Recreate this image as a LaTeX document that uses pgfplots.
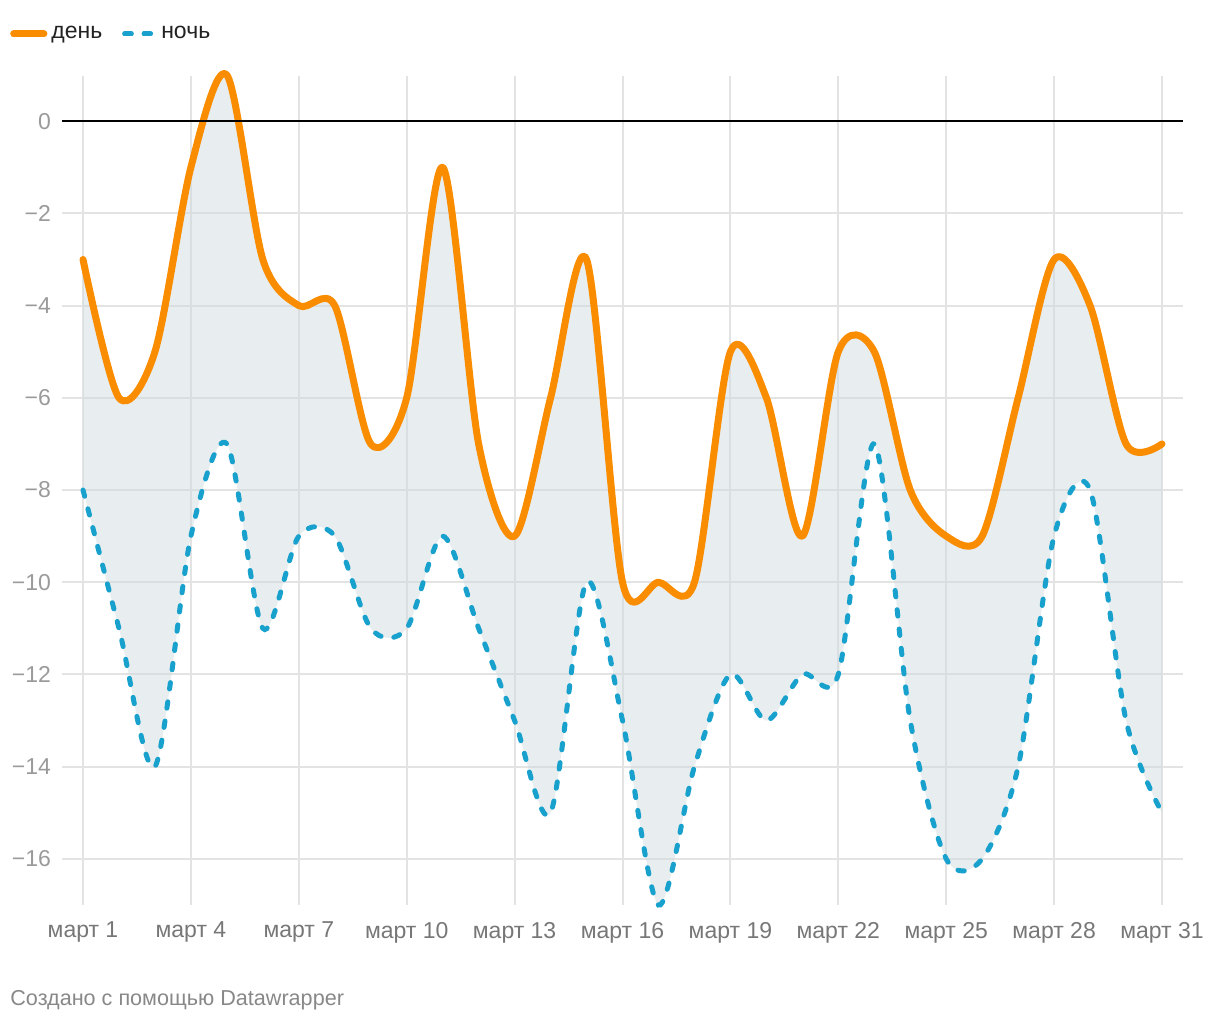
\documentclass[border=0pt]{standalone}
\usepackage{fontspec}
\setmainfont{Liberation Sans}
\usepackage{pgfplots}
\usepackage{pgfplotstable}
\pgfplotsset{compat=1.18}
\usepgfplotslibrary{fillbetween}
\definecolor{dayc}{HTML}{FA8C00}
\definecolor{nightc}{HTML}{18A1CD}
\definecolor{fillc}{HTML}{D1DBDF}
\definecolor{gridc}{HTML}{E3E3E3}
\definecolor{ylab}{HTML}{9A9A9A}
\definecolor{xlab}{HTML}{777777}
\definecolor{foot}{HTML}{888888}
\definecolor{legt}{HTML}{222222}

\pgfplotstableread{
d v
1 -3
2 -6
3 -5
4 -1
5 1
6 -3
7 -4
8 -4
9 -7
10 -6
11 -1
12 -7
13 -9
14 -6
15 -3
16 -10
17 -10
18 -10
19 -5
20 -6
21 -9
22 -5
23 -5
24 -8
25 -9
26 -9
27 -6
28 -3
29 -4
30 -7
31 -7
}\daytable

\pgfplotstableread{
d v
1 -8
2 -11
3 -14
4 -9
5 -7
6 -11
7 -9
8 -9
9 -11
10 -11
11 -9
12 -11
13 -13
14 -15
15 -10
16 -13
17 -17
18 -14
19 -12
20 -13
21 -12
22 -12
23 -7
24 -13
25 -16
26 -16
27 -14
28 -9
29 -8
30 -13
31 -15
}\nighttable

\begin{document}
\begin{tikzpicture}
\begin{axis}[
  at={(0,0)}, anchor=south west,
  scale only axis, width=560.5pt, height=414.5pt,
  xmin=0.416, xmax=31.584, ymin=-17, ymax=0.98,
  axis line style={draw=none}, tick style={draw=none},
  xtick={1,4,...,31},
  xticklabels={март 1,март 4,март 7,март 10,март 13,март 16,март 19,март 22,март 25,март 28,март 31},
  ytick={-16,-14,...,0},
  yticklabels={−16,−14,−12,−10,−8,−6,−4,−2,0},
  grid=major, major grid style={gridc, line width=1pt},
  xticklabel style={font=\fontsize{11.5}{13}\selectfont, text=xlab, yshift=-5pt},
  yticklabel style={font=\fontsize{11.5}{13}\selectfont, text=ylab, xshift=-2pt},
  clip=false,
  legend columns=-1,
  legend cell align=left,
  legend style={draw=none, fill=none, at={(rel axis cs:0,1)}, anchor=west,
    xshift=-29pt, yshift=21pt, font=\fontsize{11.5}{13}\selectfont, text=legt,
    /tikz/every even column/.append style={column sep=8pt}},
  legend image code/.code={\draw[#1, line cap=round] (0pt,0pt) -- (12pt,0pt); \path (0pt,0pt) -- (15pt,0pt);},
]
\addplot[dayc, line width=3.5pt, smooth, tension=0.5, name path=day, line cap=round, line join=round] table[x=d, y=v] {\daytable};
\addlegendentry{день}
\addplot[nightc, line width=2.5pt, smooth, tension=0.5, name path=night, line cap=round, dash pattern=on 3.2pt off 6.5pt] table[x=d, y=v] {\nighttable};
\addlegendentry{ночь}
\addplot[fillc, fill opacity=0.5, draw=none, forget plot] fill between[of=day and night];
\addplot[black, line width=1pt, forget plot] coordinates {(0.416,0) (31.584,0)};
\node[anchor=west, inner sep=0pt, font=\fontsize{10.8}{12}\selectfont, text=foot] at (rel axis cs:0,0) [xshift=-26pt, yshift=-47.5pt] {Создано с помощью Datawrapper};
\end{axis}
\pgfresetboundingbox
\path[use as bounding box] (-31pt,-57.5pt) rectangle (579pt,452.5pt);
\end{tikzpicture}
\end{document}
